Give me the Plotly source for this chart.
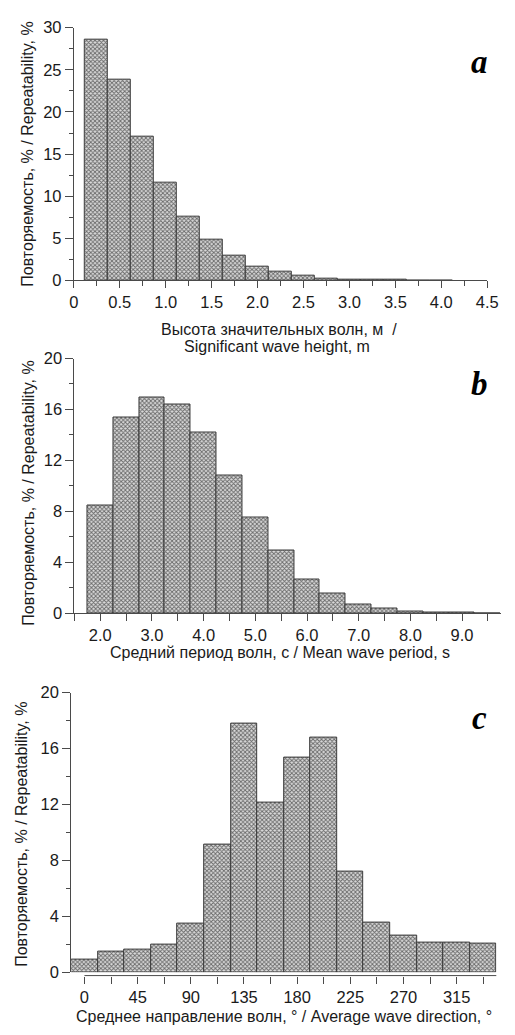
import plotly.graph_objects as go

W, H = 515, 1035

# ---- data ----
height_bins = [0.25, 0.5, 0.75, 1.0, 1.25, 1.5, 1.75, 2.0, 2.25, 2.5, 2.75, 3.0, 3.25, 3.5, 3.75, 4.0]
height_pct = [28.6, 23.8, 17.1, 11.6, 7.6, 4.8, 2.9, 1.6, 1.0, 0.55, 0.25, 0.12, 0.06, 0.04, 0.02, 0.01]

period_bins = [2.0, 2.5, 3.0, 3.5, 4.0, 4.5, 5.0, 5.5, 6.0, 6.5, 7.0, 7.5, 8.0, 8.5, 9.0, 9.5]
period_pct = [8.5, 15.35, 16.95, 16.4, 14.2, 10.8, 7.55, 4.9, 2.65, 1.55, 0.7, 0.36, 0.15, 0.08, 0.03, 0.01]

dir_bins = [0, 22.5, 45, 67.5, 90, 112.5, 135, 157.5, 180, 202.5, 225, 247.5, 270, 292.5, 315, 337.5]
dir_pct = [0.9, 1.45, 1.6, 1.95, 3.5, 9.1, 17.8, 12.1, 15.35, 16.8, 7.2, 3.55, 2.6, 2.15, 2.15, 2.05]

a_xtick_vals = [0, 0.5, 1.0, 1.5, 2.0, 2.5, 3.0, 3.5, 4.0, 4.5]
a_xtick_text = ["0", "0.5", "1.0", "1.5", "2.0", "2.5", "3.0", "3.5", "4.0", "4.5"]
b_xtick_vals = [2, 3, 4, 5, 6, 7, 8, 9]
b_xtick_text = ["2.0", "3.0", "4.0", "5.0", "6.0", "7.0", "8.0", "9.0"]
c_xtick_vals = [0, 45, 90, 135, 180, 225, 270, 315]
c_xtick_text = ["0", "45", "90", "135", "180", "225", "270", "315"]

y_title = "Повторяемость, % / Repeatability, %"
a_title = ["Высота значительных волн, м  /", "Significant wave height, m"]
b_title = "Средний период волн, с / Mean wave period, s"
c_title = "Среднее направление волн, ° / Average wave direction, °"

FONT = "Liberation Sans, Arial, sans-serif"
AXC = "#4a4a4a"
TXT = "#1a1a1a"

pattern = dict(shape="x", size=3, solidity=0.5, fgcolor="#686868", bgcolor="#dadada", fillmode="replace")

def bar(x, y, w, xa, ya):
    return go.Bar(x=x, y=y, width=w, xaxis=xa, yaxis=ya,
                  marker=dict(color="#bdbdbd", pattern=pattern,
                              line=dict(color="#3a3a3a", width=1)),
                  showlegend=False, hoverinfo="skip")

fig = go.Figure()
fig.add_trace(bar(height_bins, height_pct, 0.25, "x", "y"))
fig.add_trace(bar(period_bins, period_pct, 0.5, "x2", "y2"))
fig.add_trace(bar(dir_bins, dir_pct, 22.5, "x3", "y3"))

def px_x(p):
    return p / W

def px_y(p):
    return 1 - p / H

common_ax = dict(showline=True, linecolor=AXC, linewidth=1, ticks="outside",
                 tickcolor=AXC, tickwidth=1, showgrid=False, zeroline=False,
                 tickfont=dict(family=FONT, size=16.5, color=TXT))

layout = dict(
    width=W, height=H, margin=dict(l=0, r=0, t=0, b=0),
    paper_bgcolor="white", plot_bgcolor="white", bargap=0,
    # panel a
    xaxis=dict(common_ax, domain=[px_x(71), px_x(497.7)], range=[0, 4.5], anchor="y",
               tickvals=a_xtick_vals, ticktext=a_xtick_text, ticklen=7,
               minor=dict(dtick=0.25, tick0=0, ticklen=5, ticks="outside", tickcolor=AXC)),
    yaxis=dict(common_ax, domain=[px_y(276.3), px_y(19)], range=[0, 30], anchor="x",
               dtick=5, ticklen=8,
               minor=dict(dtick=2.5, tick0=0, ticklen=4, ticks="outside", tickcolor=AXC)),
    # panel b
    xaxis2=dict(common_ax, domain=[px_x(71.7), px_x(511.7)], range=[1.5, 9.75], anchor="y2",
                tickvals=b_xtick_vals, ticktext=b_xtick_text, ticklen=7,
                minor=dict(dtick=0.5, tick0=1.5, ticklen=7, ticks="outside", tickcolor=AXC)),
    yaxis2=dict(common_ax, domain=[px_y(615), px_y(355.7)], range=[0, 20], anchor="x2",
                dtick=4, ticklen=8,
                minor=dict(dtick=2, tick0=0, ticklen=4, ticks="outside", tickcolor=AXC)),
    # panel c
    xaxis3=dict(common_ax, domain=[px_x(68.3), px_x(507.3)], range=[-11.25, 348.75],
                anchor="free", position=px_y(983.7), showline=False,
                tickvals=c_xtick_vals, ticktext=c_xtick_text, ticklen=7,
                minor=dict(dtick=22.5, tick0=0, ticklen=7, ticks="outside", tickcolor=AXC)),
    yaxis3=dict(common_ax, domain=[px_y(980.3), px_y(695.7)], range=[0, 20], anchor="x3",
                dtick=4, ticklen=8,
                minor=dict(dtick=2, tick0=0, ticklen=4, ticks="outside", tickcolor=AXC)),
)
fig.update_layout(**layout)

# x-axis line of panel c starts at 0 deg, below the bars
fig.add_shape(type="line", xref="x3", yref="paper", x0=0, x1=348.75,
              y0=px_y(983.7), y1=px_y(983.7), line=dict(color=AXC, width=1))

ann = []
tf = dict(family=FONT, size=16, color=TXT)
# y titles
for xc, yc in [(23, 148), (24, 493), (17, 840)]:
    ann.append(dict(text=y_title, x=px_x(xc), y=px_y(yc), xref="paper", yref="paper",
                    textangle=-90, showarrow=False, font=tf, xanchor="center", yanchor="middle"))
# x titles
ann.append(dict(text=a_title[0], x=px_x(283), y=px_y(326), xref="paper", yref="paper",
                showarrow=False, font=tf, xanchor="center", yanchor="middle"))
ann.append(dict(text=a_title[1], x=px_x(281), y=px_y(343), xref="paper", yref="paper",
                showarrow=False, font=tf, xanchor="center", yanchor="middle"))
ann.append(dict(text=b_title, x=px_x(284), y=px_y(655), xref="paper", yref="paper",
                showarrow=False, font=tf, xanchor="center", yanchor="middle"))
ann.append(dict(text=c_title, x=px_x(288), y=px_y(1025), xref="paper", yref="paper",
                showarrow=False, font=tf, xanchor="center", yanchor="middle"))
# panel letters
lf = dict(family="Liberation Serif, Times New Roman, serif", size=33, color="black")
for letter, xc, yc in [("a", 490, 54), ("b", 490, 382), ("c", 490, 722)]:
    ann.append(dict(text=f"<b><i>{letter}</i></b>", x=px_x(xc), y=px_y(yc), xref="paper",
                    yref="paper", showarrow=False, font=lf, xanchor="center", yanchor="middle"))
fig.update_layout(annotations=ann)

fig.write_html("out.html")
